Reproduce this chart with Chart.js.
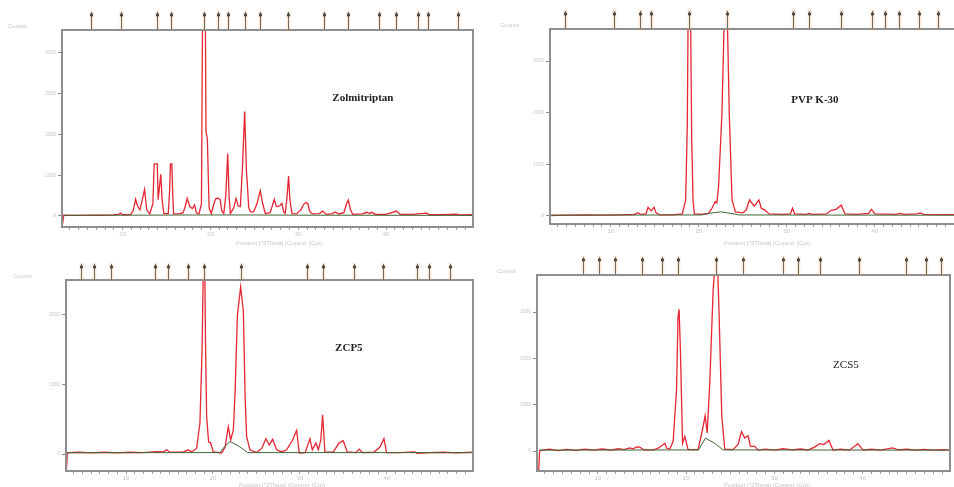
<!DOCTYPE html>
<html>
<head>
<meta charset="utf-8">
<title>XRD patterns</title>
<script src="https://cdn.jsdelivr.net/npm/chart.js"></script>
<style>
  html, body { margin: 0; padding: 0; background: #fff; overflow: hidden; width: 954px; height: 487px; }
  .panel { position: absolute; }
  .panel canvas { filter: blur(0.45px); }
</style>
</head>
<body>
<div class="panel" style="left:0;top:0;width:477px;height:248px"><canvas id="c1"></canvas></div>
<div class="panel" style="left:477px;top:0;width:489px;height:248px"><canvas id="c2"></canvas></div>
<div class="panel" style="left:0;top:250px;width:477px;height:237px"><canvas id="c3"></canvas></div>
<div class="panel" style="left:477px;top:250px;width:477px;height:237px"><canvas id="c4"></canvas></div>
<script>
// x axis: position in degrees 2-theta
const xMin = 3.1, xMax = 49.9;
const xTicks = [];
for (let v = 4; v <= 49; v++) xTicks.push(v);

// patterns as [2theta, counts]
const zolPattern = [[3.15,-220],[3.3,20],[4.5,15],[6.0,20],[7.5,18],[9.0,25],[9.55,40],[9.77,70],[10.0,30],[10.9,35],[11.2,120],[11.48,410],[11.7,250],[11.97,150],[12.25,400],[12.5,650],[12.75,150],[13.1,50],[13.45,300],[13.6,1280],[13.95,1280],[14.05,400],[14.35,1020],[14.5,400],[14.7,60],[15.2,60],[15.35,600],[15.45,1280],[15.6,1280],[15.7,600],[15.8,60],[16.4,50],[16.9,80],[17.15,250],[17.35,430],[17.65,230],[17.95,180],[18.2,270],[18.4,80],[18.7,50],[18.98,300],[19.12,5600],[19.4,5600],[19.5,2060],[19.65,1900],[19.85,200],[20.1,60],[20.4,300],[20.6,420],[20.85,440],[21.1,400],[21.3,120],[21.52,60],[21.75,500],[21.97,1530],[22.12,500],[22.27,60],[22.65,200],[22.92,430],[23.15,250],[23.41,230],[23.65,1200],[23.9,2560],[24.1,1100],[24.2,800],[24.36,200],[24.6,100],[24.92,100],[25.3,300],[25.68,620],[25.95,300],[26.25,60],[26.8,80],[27.05,250],[27.27,410],[27.5,240],[27.65,230],[27.9,250],[28.14,310],[28.35,100],[28.52,60],[28.72,450],[28.9,980],[29.05,400],[29.28,60],[29.8,50],[30.3,150],[30.6,280],[30.9,330],[31.1,300],[31.3,120],[31.6,50],[32.4,60],[32.8,120],[33.2,40],[33.9,60],[34.2,100],[34.6,50],[35.2,80],[35.5,300],[35.7,390],[35.95,150],[36.2,40],[37.3,50],[37.8,90],[38.1,60],[38.35,90],[38.8,40],[40.0,40],[41.2,120],[41.6,40],[43.0,40],[44.6,70],[45.0,30],[46.5,35],[48.0,45],[48.4,25],[49.9,30]];
const zolBackground = [[3.3,15],[19,25],[24,25],[30,20],[49.9,15]];
const zolPeaks = [6.36,9.85,13.94,15.53,19.32,20.83,21.97,23.90,25.60,28.78,32.88,35.64,39.20,41.14,43.60,44.81,48.15];

const pvpPattern = [[3.0,-120],[3.1,10],[5,15],[7,20],[9,15],[11,20],[12.7,30],[13.09,65],[13.4,30],[14.0,40],[14.24,168],[14.6,100],[14.92,168],[15.15,60],[15.57,20],[17.0,20],[18.13,40],[18.51,310],[18.7,1800],[18.8,4200],[19.05,4200],[19.2,1470],[19.35,300],[19.5,40],[20.3,30],[21.11,50],[21.5,150],[21.87,280],[22.05,250],[22.25,570],[22.63,1990],[22.95,4200],[23.2,4200],[23.47,1930],[23.78,310],[24.16,80],[25.0,60],[25.4,120],[25.76,310],[26.3,190],[26.83,310],[27.1,150],[27.48,120],[27.98,40],[29.5,30],[30.4,40],[30.65,150],[30.9,40],[32.2,30],[32.56,50],[32.9,30],[34.5,40],[35.04,110],[35.6,130],[36.19,210],[36.6,40],[38.0,30],[39.3,50],[39.62,130],[40.0,40],[42.4,30],[42.86,50],[43.3,30],[44.8,40],[45.15,60],[45.6,30],[47.5,25],[49.9,25]];
const pvpBackground = [[3.1,15],[20.3,20],[21.5,60],[22.5,80],[24.0,40],[24.6,20],[49.9,15]];
const pvpPeaks = [4.77,10.42,13.29,14.55,18.90,23.21,30.65,32.57,36.20,39.63,41.16,42.80,44.97,47.15];

const zcp5Pattern = [[3.15,-230],[3.2,-230],[3.25,15],[4.5,25],[6,15],[7.5,25],[9,15],[10.5,25],[12,20],[13.5,35],[14.3,30],[14.68,60],[15.0,30],[16.5,25],[17.16,60],[17.5,30],[18.12,80],[18.5,440],[18.75,1500],[18.9,2800],[19.05,2800],[19.15,1500],[19.27,540],[19.5,170],[19.73,160],[20.04,30],[21.0,15],[21.4,100],[21.76,390],[22.03,200],[22.34,340],[22.55,900],[22.8,1970],[23.18,2390],[23.49,2050],[23.7,800],[23.87,250],[24.25,60],[25.02,20],[25.6,80],[26.09,220],[26.47,130],[26.86,210],[27.32,60],[27.89,30],[28.47,60],[29.16,200],[29.62,340],[29.92,15],[30.6,20],[31.15,220],[31.42,60],[31.84,160],[32.11,60],[32.4,200],[32.61,560],[32.87,30],[33.8,25],[34.52,160],[34.98,190],[35.44,30],[36.4,20],[36.82,70],[37.2,20],[38.5,25],[39.2,100],[39.66,220],[39.96,20],[41.5,20],[43.2,30],[43.5,10],[45,20],[46.5,25],[48,15],[49.9,25]];
const zcp5Background = [[3.25,20],[20.8,20],[21.3,100],[21.97,180],[23.0,110],[24.0,20],[49.9,20]];
const zcp5Peaks = [4.79,6.36,8.28,13.33,14.86,17.16,18.97,23.18,30.84,32.61,36.24,39.57,43.41,44.83,47.24];

const zcs5Pattern = [[3.15,-400],[3.3,-400],[3.4,10],[4.5,40],[5.5,10],[6.5,35],[7.5,15],[8.5,40],[9.5,20],[10.5,45],[11.5,20],[12.3,50],[13.0,30],[13.6,70],[14.0,50],[14.4,90],[14.75,86],[15.2,30],[16.2,20],[16.8,60],[17.21,115],[17.59,170],[17.8,60],[18.15,43],[18.53,210],[18.91,1320],[19.08,2900],[19.2,3060],[19.35,2190],[19.59,170],[19.85,320],[20.22,30],[21.36,30],[21.85,460],[22.15,760],[22.38,390],[22.68,1470],[23.06,3480],[23.3,4100],[23.55,4100],[23.74,2910],[24.04,750],[24.38,40],[25.32,30],[25.9,150],[26.27,420],[26.64,280],[27.02,330],[27.29,100],[27.78,100],[28.15,20],[29.0,40],[30.0,20],[31.0,50],[32.0,25],[33.0,45],[33.8,20],[34.5,80],[35.13,160],[35.6,140],[36.19,230],[36.64,20],[37.5,40],[38.5,20],[39.47,160],[40.04,20],[41.0,40],[42.0,20],[43.43,70],[44.0,25],[45.0,40],[46.0,20],[47.0,35],[48.0,20],[49.0,30],[49.9,20]];
const zcs5Background = [[3.4,20],[21.4,25],[22.2,280],[23.2,170],[24.2,25],[49.9,20]];
const zcs5Peaks = [8.27,10.15,11.93,14.95,17.22,19.11,23.38,26.48,31.01,32.71,35.17,39.63,44.92,47.19,48.85];

const xrdDecor = {
  id: 'xrdDecor',
  afterDraw(chart, args, o) {
    const { ctx, chartArea: a, scales: { x } } = chart;
    ctx.save();
    // frame
    ctx.strokeStyle = '#8e8e8e';
    ctx.lineWidth = 2;
    ctx.strokeRect(a.left, a.top, a.right - a.left, a.bottom - a.top);
    // reference peak markers above the frame
    o.peaks.forEach(p => {
      const px = Math.round(x.getPixelForValue(p)) + 0.5;
      ctx.strokeStyle = 'rgba(240,185,120,0.3)';
      ctx.lineWidth = 4;
      ctx.beginPath(); ctx.moveTo(px, a.top - o.markH); ctx.lineTo(px, a.top); ctx.stroke();
      ctx.strokeStyle = '#6f6a66';
      ctx.lineWidth = 1;
      ctx.beginPath(); ctx.moveTo(px, a.top - o.markH + 1); ctx.lineTo(px, a.top); ctx.stroke();
      ctx.fillStyle = '#4a4642';
      ctx.beginPath(); ctx.arc(px, a.top - o.markH + 4, 1.7, 0, Math.PI * 2); ctx.fill();
    });
    // sample name
    ctx.fillStyle = '#222';
    ctx.font = o.bold + ' 11px "Liberation Serif", "DejaVu Serif", serif';
    ctx.textAlign = 'center';
    ctx.textBaseline = 'middle';
    ctx.fillText(o.label, a.left + o.lx * (a.right - a.left), a.top + o.ly * (a.bottom - a.top));
    // axis titles
    ctx.fillStyle = '#c6c6c6';
    ctx.font = '6px "Liberation Sans", sans-serif';
    ctx.fillText('Position [°2Theta] (Copper (Cu))', o.titleX, o.titleY);
    ctx.textAlign = 'left';
    ctx.fillText('Counts', o.countsX, a.top - 4);
    ctx.restore();
  }
};

function makePanel(id, pattern, background, peaks, yMin, yMax, yTicks, lay) {
  new Chart(document.getElementById(id), {
    type: 'line',
    data: {
      datasets: [
        { data: pattern.map(p => ({ x: p[0], y: p[1] })), borderColor: 'rgb(230,38,50)', borderWidth: 1.3, pointRadius: 0, tension: 0, order: 1 },
        { data: background.map(p => ({ x: p[0], y: p[1] })), borderColor: 'rgb(62,100,52)', borderWidth: 1, pointRadius: 0, tension: 0, order: 0 }
      ]
    },
    options: {
      responsive: true,
      maintainAspectRatio: false,
      animation: false,
      devicePixelRatio: 1,
      layout: { padding: { left: 0, top: lay.top, right: 4, bottom: 0 } },
      plugins: {
        legend: { display: false },
        tooltip: { enabled: false },
        xrdDecor: { peaks: peaks, markH: lay.markH, label: lay.label, bold: lay.bold, lx: lay.lx, ly: lay.ly, titleX: lay.titleX, titleY: lay.titleY, countsX: lay.countsX }
      },
      scales: {
        x: {
          type: 'linear', min: xMin, max: xMax,
          afterBuildTicks: s => { s.ticks = xTicks.map(v => ({ value: v })); },
          afterFit: s => { s.height = lay.xh; },
          ticks: { autoSkip: false, maxRotation: 0, padding: 1, color: '#c4c4c4', font: { size: 6 }, callback: v => (v % 10 === 0 ? String(v) : '') },
          grid: { drawOnChartArea: false, tickLength: 3, color: '#9a9a9a' },
          border: { display: true, color: '#8e8e8e', width: 2 }
        },
        y: {
          min: yMin, max: yMax,
          afterBuildTicks: s => { s.ticks = yTicks.map(v => ({ value: v })); },
          afterFit: s => { s.width = lay.yw; },
          ticks: { padding: 2, color: '#c4c4c4', font: { size: 5 }, callback: v => String(v) },
          grid: { drawOnChartArea: false, tickLength: 4, color: '#8a8a8a' },
          border: { display: true, color: '#8e8e8e', width: 2 }
        }
      }
    },
    plugins: [xrdDecor]
  });
}

makePanel('c1', zolPattern, zolBackground, zolPeaks, -270, 4560, [0, 1000, 2000, 3000, 4000],
  { top: 30, yw: 62, xh: 21, markH: 19, label: 'Zolmitriptan', bold: 'bold', lx: 0.732, ly: 0.345, titleX: 279, titleY: 243, countsX: 8 });
makePanel('c2', pvpPattern, pvpBackground, pvpPeaks, -155, 3620, [0, 1000, 2000, 3000],
  { top: 29, yw: 73, xh: 24, markH: 19, label: 'PVP K-30', bold: 'bold', lx: 0.643, ly: 0.364, titleX: 290, titleY: 243, countsX: 23 });
makePanel('c3', zcp5Pattern, zcp5Background, zcp5Peaks, -243, 2490, [0, 1000, 2000],
  { top: 30, yw: 66, xh: 16, markH: 17, label: 'ZCP5', bold: 'bold', lx: 0.695, ly: 0.356, titleX: 282, titleY: 235, countsX: 13 });
makePanel('c4', zcs5Pattern, zcs5Background, zcs5Peaks, -430, 3800, [0, 1000, 2000, 3000],
  { top: 25, yw: 60, xh: 16, markH: 19, label: 'ZCS5', bold: 'normal', lx: 0.748, ly: 0.459, titleX: 290, titleY: 235, countsX: 20 });
</script>
</body>
</html>
